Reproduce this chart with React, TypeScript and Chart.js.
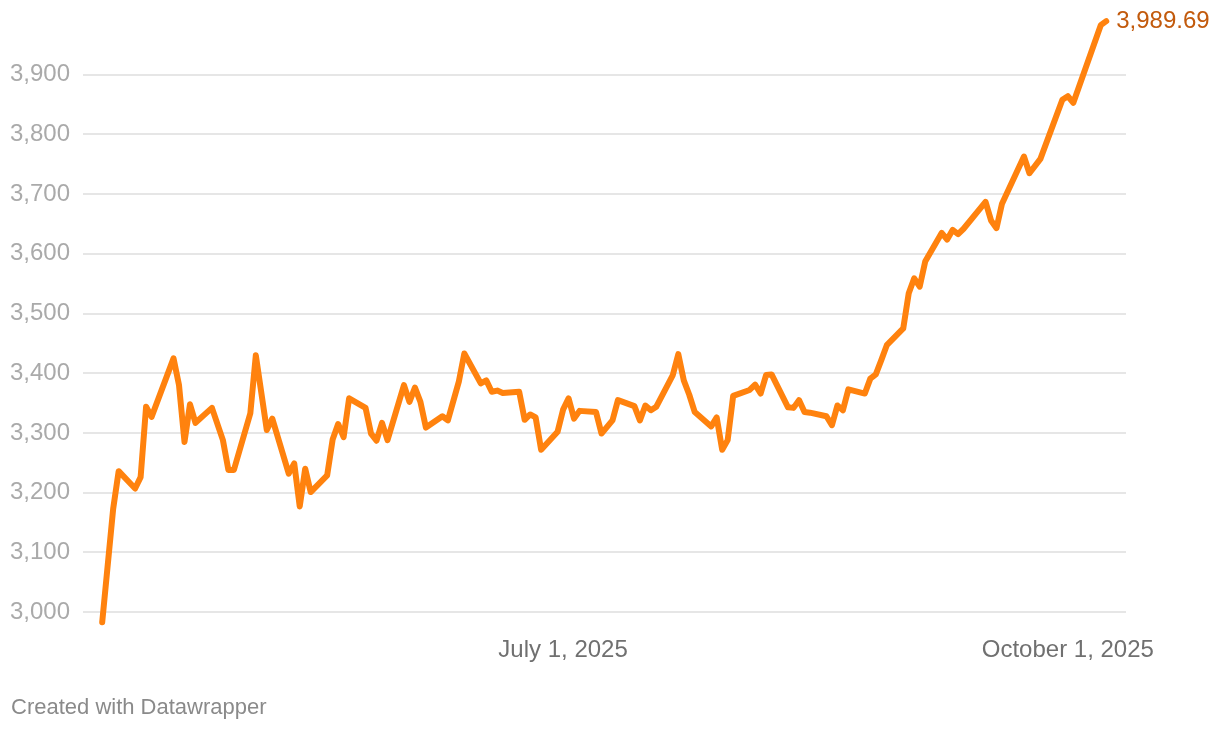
import React, { useEffect, useRef } from 'react';
import { Chart, registerables } from 'chart.js';

Chart.register(...registerables);

const FONT = '"Liberation Sans", Arial, Helvetica, sans-serif';

// Trading dates (vertices of the line) and gold price values
const dates: string[] = [
  '2025-04-08', '2025-04-10', '2025-04-11', '2025-04-14', '2025-04-15', '2025-04-16', '2025-04-17',
  '2025-04-21', '2025-04-22', '2025-04-23', '2025-04-24', '2025-04-25', '2025-04-28', '2025-04-30',
  '2025-05-01', '2025-05-02', '2025-05-05', '2025-05-06', '2025-05-08', '2025-05-09', '2025-05-12',
  '2025-05-13', '2025-05-14', '2025-05-15', '2025-05-16', '2025-05-19', '2025-05-20', '2025-05-21',
  '2025-05-22', '2025-05-23', '2025-05-26', '2025-05-27', '2025-05-28', '2025-05-29', '2025-05-30',
  '2025-06-02', '2025-06-03', '2025-06-04', '2025-06-05', '2025-06-06', '2025-06-09', '2025-06-10',
  '2025-06-12', '2025-06-13', '2025-06-16', '2025-06-17', '2025-06-18', '2025-06-19', '2025-06-20',
  '2025-06-23', '2025-06-24', '2025-06-25', '2025-06-26', '2025-06-27', '2025-06-30', '2025-07-01',
  '2025-07-02', '2025-07-03', '2025-07-04', '2025-07-07', '2025-07-08', '2025-07-10', '2025-07-11',
  '2025-07-14', '2025-07-15', '2025-07-16', '2025-07-17', '2025-07-18', '2025-07-21', '2025-07-22',
  '2025-07-23', '2025-07-24', '2025-07-25', '2025-07-28', '2025-07-29', '2025-07-30', '2025-07-31',
  '2025-08-01', '2025-08-04', '2025-08-05', '2025-08-06', '2025-08-07', '2025-08-08', '2025-08-11',
  '2025-08-12', '2025-08-13', '2025-08-14', '2025-08-15', '2025-08-18', '2025-08-19', '2025-08-20',
  '2025-08-21', '2025-08-22', '2025-08-25', '2025-08-26', '2025-08-27', '2025-08-28', '2025-08-29',
  '2025-09-01', '2025-09-02', '2025-09-03', '2025-09-04', '2025-09-05', '2025-09-08', '2025-09-09',
  '2025-09-10', '2025-09-11', '2025-09-12', '2025-09-16', '2025-09-17', '2025-09-18', '2025-09-19',
  '2025-09-23', '2025-09-24', '2025-09-26', '2025-09-30', '2025-10-01', '2025-10-02', '2025-10-07',
  '2025-10-08',
];

const prices: number[] = [
  2983, 3173, 3236, 3207, 3226, 3344, 3327,
  3425, 3380, 3285, 3348, 3317, 3342, 3288,
  3238, 3238, 3333, 3430, 3305, 3324, 3232,
  3249, 3177, 3240, 3201, 3229, 3289, 3315,
  3293, 3358, 3342, 3299, 3287, 3317, 3288,
  3380, 3352, 3376, 3352, 3309, 3328, 3321,
  3386, 3433, 3383, 3388, 3369, 3371, 3367,
  3369, 3322, 3331, 3326, 3272, 3302, 3339,
  3358, 3324, 3337, 3335, 3299, 3321, 3355,
  3345, 3321, 3346, 3338, 3344, 3397, 3432,
  3388, 3364, 3335, 3311, 3326, 3272, 3288,
  3362, 3372, 3381, 3366, 3397, 3398, 3343,
  3342, 3355, 3335, 3334, 3328, 3313, 3346,
  3338, 3373, 3366, 3391, 3398, 3422, 3447,
  3475, 3534, 3559, 3545, 3587, 3635, 3624,
  3640, 3633, 3642, 3687, 3656, 3643, 3684,
  3763, 3735, 3759, 3858, 3864, 3853, 3983,
  3989.69,
];

const yTicks: number[] = [3000, 3100, 3200, 3300, 3400, 3500, 3600, 3700, 3800, 3900];
const xTickDates: string[] = ['2025-07-01', '2025-10-01'];
const xTickLabels: string[] = ['July 1, 2025', 'October 1, 2025'];
const footnote = 'Created with Datawrapper';

const ORIGIN = Date.UTC(2025, 6, 1);
const toDay = (s: string): number => {
  const [y, m, d] = s.split('-').map(Number);
  return (Date.UTC(y, m - 1, d) - ORIGIN) / 86400000;
};

const annotatePlugin = {
  id: 'annotate',
  afterDraw(chart: any) {
    const ctx = chart.ctx;
    const meta = chart.getDatasetMeta(0);
    const p = meta.data[meta.data.length - 1];
    const lastVal = prices[prices.length - 1];
    const label = lastVal.toLocaleString('en-US', { minimumFractionDigits: 2, maximumFractionDigits: 2 });
    ctx.save();
    ctx.textAlign = 'left';
    ctx.textBaseline = 'alphabetic';
    ctx.font = `24px ${FONT}`;
    ctx.fillStyle = '#c25a0c';
    ctx.fillText(label, p.x + 10, p.y + 7);
    ctx.font = `22px ${FONT}`;
    ctx.fillStyle = '#8a8a8a';
    ctx.fillText(footnote, 11, 714);
    ctx.restore();
  },
};

export default function App() {
  const canvasRef = useRef<HTMLCanvasElement | null>(null);

  useEffect(() => {
    if (!canvasRef.current) return;
    const chart = new Chart(canvasRef.current, {
      type: 'line',
      data: {
        datasets: [
          {
            data: dates.map((d, i) => ({ x: toDay(d), y: prices[i] })),
            borderColor: '#ff820e',
            borderWidth: 6,
            pointRadius: 0,
            pointHoverRadius: 0,
            tension: 0,
            fill: false,
            borderJoinStyle: 'round',
            borderCapStyle: 'round',
            clip: false,
          } as any,
        ],
      },
      options: {
        animation: false,
        responsive: false,
        devicePixelRatio: 1,
        layout: { padding: { top: 15, right: 94, left: 0, bottom: 0 } },
        plugins: { legend: { display: false }, tooltip: { enabled: false } },
        scales: {
          x: {
            type: 'linear',
            min: -87.5,
            max: 102.6,
            grid: { display: false, drawTicks: false },
            border: { display: false },
            afterBuildTicks: (axis: any) => {
              axis.ticks = xTickDates.map((d) => ({ value: toDay(d) }));
            },
            afterFit: (s: any) => {
              s.height = 100;
              s.paddingLeft = 0;
              s.paddingRight = 0;
            },
            ticks: {
              autoSkip: false,
              maxRotation: 0,
              padding: 6,
              color: '#707070',
              font: { family: FONT, size: 24 },
              callback: (v: any) => {
                const idx = xTickDates.findIndex((d) => toDay(d) === Number(v));
                return idx >= 0 ? xTickLabels[idx] : '';
              },
            },
          },
          y: {
            type: 'linear',
            min: 2970,
            max: 4000,
            grid: { color: '#e6e6e6', lineWidth: 2, drawTicks: false },
            border: { display: false },
            afterBuildTicks: (axis: any) => {
              axis.ticks = yTicks.map((v) => ({ value: v }));
            },
            afterFit: (s: any) => {
              s.width = 83;
              s.paddingTop = 0;
              s.paddingBottom = 0;
            },
            ticks: {
              padding: 13,
              color: '#aaaaaa',
              font: { family: FONT, size: 24 },
              callback: (v: any) => Number(v).toLocaleString('en-US'),
            },
          },
        },
      },
      plugins: [annotatePlugin],
    });
    return () => chart.destroy();
  }, []);

  return (
    <div style={{ position: 'fixed', left: 0, top: 0, width: 1220, height: 730, background: '#fff' }}>
      <canvas ref={canvasRef} width={1220} height={730} style={{ display: 'block' }} />
    </div>
  );
}
